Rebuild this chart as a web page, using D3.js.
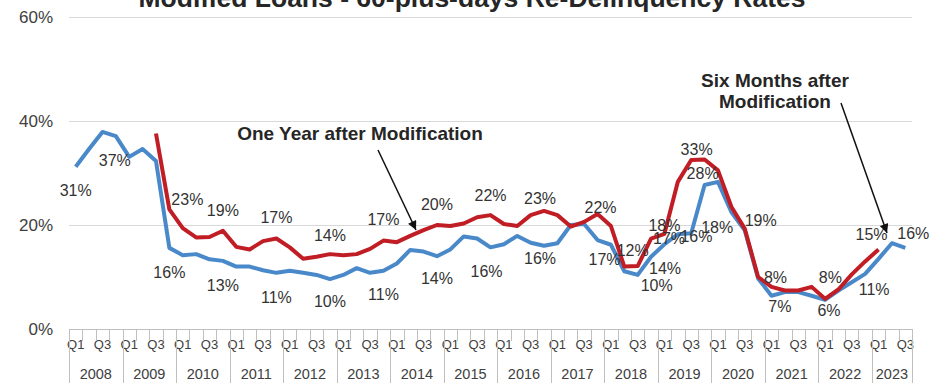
<!DOCTYPE html>
<html>
<head>
<meta charset="utf-8">
<script src="https://cdn.jsdelivr.net/npm/d3@7"></script>
<style>
  html, body { margin: 0; padding: 0; background: #fff; }
  svg { display: block; font-family: "Liberation Sans", Arial, Helvetica, sans-serif; }
</style>
</head>
<body>
<svg id="chart" width="942" height="383"></svg>
<script>
// ---- data -------------------------------------------------------------
const years = [2008, 2009, 2010, 2011, 2012, 2013, 2014, 2015,
               2016, 2017, 2018, 2019, 2020, 2021, 2022, 2023];
const quarterNames = ["Q1", "Q2", "Q3", "Q4"];
const shownQuarters = ["Q1", "Q3"];
const lastYearQuarters = 3;           // 2023 runs through Q3
const yTicks = [0, 20, 40, 60];

// 60+ day re-delinquency rate (%) six months after modification, 2008 Q1 - 2023 Q3
const sixMonths = [
  31.2, 34.6, 37.9, 37.1, 33.1, 34.6, 32.3, 15.6,
  14.2, 14.4, 13.4, 13.1, 12.0, 12.0, 11.3, 10.8,
  11.2, 10.8, 10.4,  9.6, 10.4, 11.7, 10.8, 11.2,
  12.6, 15.2, 14.9, 14.0, 15.3, 17.8, 17.4, 15.7,
  16.3, 17.9, 16.6, 16.0, 16.5, 20.0, 20.2, 17.1,
  16.2, 11.1, 10.4, 13.9, 16.3, 18.2, 18.4, 27.7,
  28.3, 22.5, 19.0,  9.7,  6.4,  7.1,  7.1,  6.4,
   5.6,  7.4,  9.0, 10.6, 13.5, 16.5, 15.6
];

// 60+ day re-delinquency rate (%) one year after modification, 2009 Q3 - 2023 Q1
const oneYear = [
  null, null, null, null, null, null,
  37.6, 23.0, 19.4, 17.6, 17.7, 18.9, 15.8, 15.3,
  16.9, 17.4, 15.7, 13.5, 13.9, 14.4, 14.2, 14.4,
  15.4, 17.0, 16.7, 17.9, 19.0, 20.0, 19.8, 20.3,
  21.5, 21.9, 20.2, 19.8, 21.9, 22.7, 21.9, 19.7,
  20.6, 22.1, 19.8, 12.0, 12.1, 17.4, 18.3, 28.3,
  32.5, 32.6, 30.5, 23.5, 19.3, 10.0,  8.1,  7.4,
   7.4,  8.1,  5.8,  7.6, 10.5, 13.0, 15.3, null, null
];

// quarters (by index) that carry a value label
const sixMonthsLabelled = [0, 3, 7, 11, 15, 19, 23, 27, 31, 35, 39, 42, 43, 44, 46, 47, 50, 53, 56, 59, 62];
const oneYearLabelled   = [7, 11, 15, 19, 23, 27, 31, 35, 39, 42, 43, 44, 47, 52, 57, 60];

const titleText = "Modified Loans - 60-plus-days Re-Delinquency Rates";
const noteOneYear = ["One Year after Modification"];
const noteSixMonths = ["Six Months after", "Modification"];

// ---- layout -----------------------------------------------------------
const plot = { left: 69, right: 912, top: 17, bottom: 329 };
const blue = "#4a89c9";
const red = "#c01d24";

// label placement relative to its point (label centre)
const sixOffsets = {
  0: [0, 23], 3: [-1, 24], 7: [0, 24], 11: [0, 24], 15: [0, 24], 19: [0, 22],
  23: [0, 23], 27: [0, 22], 31: [-4, 24], 35: [-4, 12], 39: [7, 19],
  42: [19, 10], 43: [14, 12], 44: [32, -8], 46: [26, -6], 47: [-2, -12],
  50: [16, -10], 53: [-5, 14], 56: [4, 10], 59: [9, 15], 62: [8, -15]
};
const yearOffsets = {
  7: [18, -10], 11: [0, -20], 15: [0, -21], 19: [0, -19], 23: [0, -21],
  27: [0, -21], 31: [0, -20], 35: [-4, -13], 39: [3, -7], 42: [-5, -16],
  43: [18, 0], 44: [0, -9], 47: [-8, -10], 52: [4, -10], 57: [-8, -12], 60: [-7, -15]
};

// categories: one per quarter
const categories = [];
years.forEach((yr, yi) => {
  const n = yi === years.length - 1 ? lastYearQuarters : quarterNames.length;
  for (let q = 0; q < n; q++) categories.push({ year: yr, q: quarterNames[q] });
});
const idx = categories.map((d, i) => i);

const svg = d3.select("#chart");

const x = d3.scaleBand().domain(idx).range([plot.left, plot.right]).padding(0);
const y = d3.scaleLinear().domain([0, 60]).range([plot.bottom, plot.top]);
const cx = i => x(i) + x.bandwidth() / 2;

// ---- gridlines + y axis ----------------------------------------------
const grid = svg.append("g")
  .attr("transform", `translate(${plot.left},0)`)
  .call(d3.axisLeft(y).tickValues(yTicks.filter(t => t > 0))
        .tickSize(-(plot.right - plot.left)).tickFormat(""));
grid.select(".domain").remove();
grid.selectAll(".tick line").attr("stroke", "#d9d9d9").attr("stroke-width", 1);

const yAxis = svg.append("g")
  .attr("transform", `translate(${plot.left - 16},0)`)
  .call(d3.axisLeft(y).tickValues(yTicks).tickSize(0).tickPadding(0)
        .tickFormat(d => d + "%"));
yAxis.select(".domain").remove();
yAxis.selectAll("text")
  .attr("font-size", 17).attr("fill", "#404040")
  .attr("font-family", "'Liberation Sans', Arial, sans-serif");

// ---- x axis (two-level: quarter / year) -------------------------------
const xAxis = svg.append("g")
  .attr("transform", `translate(0,${plot.bottom})`)
  .call(d3.axisBottom(x).tickSize(0).tickPadding(11)
        .tickFormat(i => shownQuarters.includes(categories[i].q) ? categories[i].q : ""));
xAxis.select(".domain").attr("stroke", "#bfbfbf").attr("stroke-width", 1);
xAxis.selectAll("text")
  .attr("font-size", 13).attr("fill", "#404040")
  .attr("font-family", "'Liberation Sans', Arial, sans-serif");

// quarter separators
const boundaries = d3.range(categories.length + 1);
const bx = b => b < categories.length ? x(b) : plot.right;
svg.append("g").selectAll("line")
  .data(boundaries)
  .join("line")
  .attr("x1", b => Math.round(bx(b)) + 0.5).attr("x2", b => Math.round(bx(b)) + 0.5)
  .attr("y1", plot.bottom)
  .attr("y2", b => (b === categories.length || categories[b].q === "Q1") ? 383 : plot.bottom + 12)
  .attr("stroke", "#bfbfbf").attr("stroke-width", 1);

// year labels centred on their quarters
const yearSpans = years.map(yr => {
  const members = idx.filter(i => categories[i].year === yr);
  return { year: yr, x0: x(members[0]), x1: x(members[members.length - 1]) + x.bandwidth() };
});
svg.append("g").selectAll("text")
  .data(yearSpans)
  .join("text")
  .attr("x", d => (d.x0 + d.x1) / 2)
  .attr("y", 379)
  .attr("text-anchor", "middle")
  .attr("font-size", 14.5).attr("fill", "#404040")
  .text(d => d.year);

// ---- lines ------------------------------------------------------------
const line = d3.line()
  .defined(d => d.v != null)
  .x(d => cx(d.i))
  .y(d => y(d.v));

const sixPts = sixMonths.map((v, i) => ({ i, v }));
const yearPts = oneYear.map((v, i) => ({ i, v }));

svg.append("path").datum(sixPts)
  .attr("d", line).attr("fill", "none")
  .attr("stroke", blue).attr("stroke-width", 4)
  .attr("stroke-linejoin", "round");

svg.append("path").datum(yearPts)
  .attr("d", line).attr("fill", "none")
  .attr("stroke", red).attr("stroke-width", 4)
  .attr("stroke-linejoin", "round");

// ---- value labels ------------------------------------------------------
function addLabels(values, which, offsets) {
  svg.append("g").selectAll("text")
    .data(which)
    .join("text")
    .attr("x", i => cx(i) + offsets[i][0])
    .attr("y", i => y(values[i]) + offsets[i][1])
    .attr("dy", "0.36em")
    .attr("text-anchor", "middle")
    .attr("font-size", 16).attr("fill", "#333")
    .text(i => Math.round(values[i]) + "%");
}
addLabels(sixMonths, sixMonthsLabelled, sixOffsets);
addLabels(oneYear, oneYearLabelled, yearOffsets);

// ---- title -------------------------------------------------------------
svg.append("text")
  .attr("x", 472).attr("y", 7)
  .attr("text-anchor", "middle")
  .attr("font-size", 26.5).attr("font-weight", "bold").attr("fill", "#262626")
  .text(titleText);

// ---- annotations -------------------------------------------------------
svg.append("defs").append("marker")
  .attr("id", "arrowhead")
  .attr("viewBox", "0 0 10 10").attr("refX", 10).attr("refY", 5)
  .attr("markerWidth", 10).attr("markerHeight", 9)
  .attr("markerUnits", "userSpaceOnUse")
  .attr("orient", "auto")
  .append("path").attr("d", "M0,0 L10,5 L0,10 Z").attr("fill", "#111");

function note(lines, cxText, baseline, from, to) {
  const t = svg.append("text")
    .attr("text-anchor", "middle")
    .attr("font-size", 19).attr("font-weight", "bold").attr("fill", "#262626");
  lines.forEach((s, k) => {
    t.append("tspan").attr("x", cxText).attr("y", baseline + k * 21).text(s);
  });
  svg.append("line")
    .attr("x1", from[0]).attr("y1", from[1])
    .attr("x2", to[0]).attr("y2", to[1])
    .attr("stroke", "#111").attr("stroke-width", 1.5)
    .attr("marker-end", "url(#arrowhead)");
}
note(noteOneYear, 360, 140, [378, 150], [416, 230]);
note(noteSixMonths, 775, 87, [841, 103], [887, 233]);
</script>
</body>
</html>
